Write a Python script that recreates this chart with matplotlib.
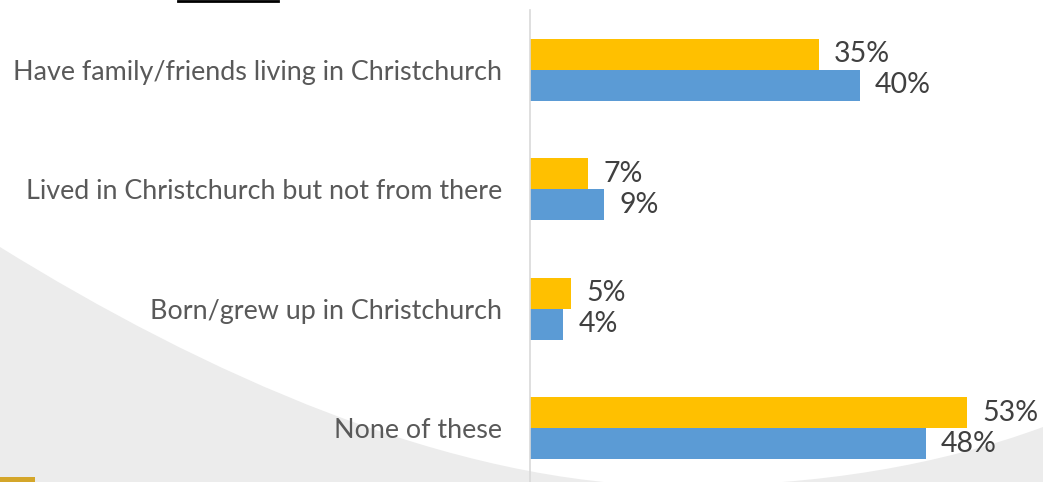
import numpy as np
import matplotlib.pyplot as plt
from matplotlib.path import Path
from matplotlib.patches import PathPatch, Rectangle

# Данные
categories = ['Have family/friends living in Christchurch',
              'Lived in Christchurch but not from there',
              'Born/grew up in Christchurch',
              'None of these']
series_yellow = [35, 7, 5, 53]
series_blue = [40, 9, 4, 48]

YELLOW = '#FFC000'
BLUE = '#5B9BD5'
FONT = ['Lato', 'DejaVu Sans']

plt.rcParams['font.family'] = FONT

fig = plt.figure(figsize=(10.43, 4.82), dpi=100)

# Фон: серая "волна" за графиком (в пиксельных координатах)
bg = fig.add_axes([0, 0, 1, 1], zorder=0)
bg.set_xlim(0, 1043)
bg.set_ylim(482, 0)
bg.axis('off')
verts = [(0, 247), (200, 371), (450, 486), (680, 486),
         (820, 486), (940, 465), (1043, 427),
         (1043, 482), (0, 482), (0, 247)]
codes = [Path.MOVETO, Path.CURVE4, Path.CURVE4, Path.CURVE4,
         Path.CURVE4, Path.CURVE4, Path.CURVE4,
         Path.LINETO, Path.LINETO, Path.CLOSEPOLY]
bg.add_patch(PathPatch(Path(verts, codes), facecolor='#ececec', edgecolor='none'))
bg.add_patch(Rectangle((0, 477), 35, 6, facecolor='#d4a62a', edgecolor='none'))
bg.plot([178, 278], [0.5, 0.5], color='black', lw=2)

# Основной график
ax = fig.add_axes([530 / 1043, (482 - 488) / 482, 513 / 1043, 478 / 482], zorder=1)
ax.set_facecolor('none')

y = np.arange(len(categories))
h = 0.26
ax.barh(y - h / 2, series_yellow, height=h, color=YELLOW)
ax.barh(y + h / 2, series_blue, height=h, color=BLUE)

ax.set_xlim(0, 62.2)
ax.set_ylim(3.5, -0.5)

for i in range(len(categories)):
    ax.annotate(f'{series_yellow[i]}%', (series_yellow[i], y[i] - h / 2),
                xytext=(11, 0), textcoords='offset points',
                va='center', ha='left', fontsize=20.5, color='#404040')
    ax.annotate(f'{series_blue[i]}%', (series_blue[i], y[i] + h / 2),
                xytext=(11, 0), textcoords='offset points',
                va='center', ha='left', fontsize=20.5, color='#404040')

ax.set_yticks(y)
ax.set_yticklabels(categories, fontsize=19.4, color='#595959')
ax.tick_params(axis='y', length=0, pad=20)
ax.set_xticks([])

for s in ['top', 'right', 'bottom']:
    ax.spines[s].set_visible(False)
ax.spines['left'].set_color('#d9d9d9')
ax.spines['left'].set_linewidth(1.2)

fig.savefig('out.png', dpi=100)
